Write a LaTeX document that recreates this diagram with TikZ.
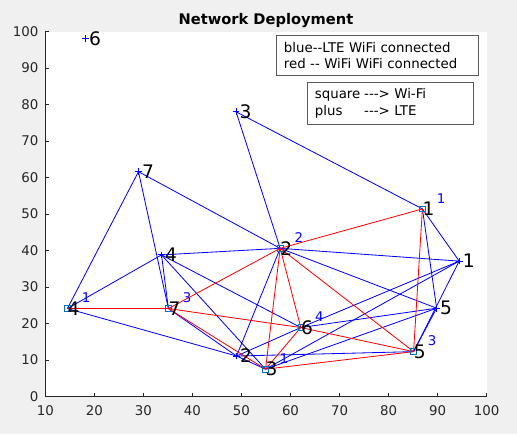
\documentclass[tikz,border=0pt]{standalone}
\usepackage{fontspec}
\setmainfont{DejaVu Sans}
\usepackage{xcolor}
\usepackage{tikz}
\usetikzlibrary{calc}
\definecolor{ndFigBg}{HTML}{F0F0F0}
\definecolor{ndAxis}{HTML}{262626}
\definecolor{ndLte}{HTML}{0000FF}
\definecolor{ndWifi}{HTML}{FF0000}
\definecolor{ndSquare}{HTML}{0072BD}
\definecolor{ndFrame}{HTML}{5A5A5A}
\tikzset{
  % LTE -- WiFi link (blue)
  ltelink/.style={draw=ndLte,line width=0.7pt},
  % WiFi -- WiFi link (red)
  wifilink/.style={draw=ndWifi,line width=0.7pt},
  % WiFi access point (square marker)
  apmark/.style={rectangle,draw=ndSquare,line width=0.6pt,
    minimum size=0.17cm,inner sep=0pt},
  % LTE base station (plus marker)
  bsmark/.style={draw=ndLte,line width=0.75pt},
  % Station number
  idlbl/.style={anchor=west,inner sep=0pt,
    font=\fontsize{15.9}{18}\selectfont,text=black},
  % Small blue index next to an access point
  sublbl/.style={inner sep=0pt,
    font=\fontsize{11.4}{13}\selectfont,text=ndLte},
  % Tick labels
  ticklbl/.style={inner sep=0pt,
    font=\fontsize{11.4}{13}\selectfont,text=ndAxis},
  % Axis lines and ticks
  axline/.style={draw=ndAxis,line width=0.6pt},
  % Legend text boxes
  keybox/.style={rectangle,draw=ndFrame,line width=0.9pt,fill=white,
    anchor=north west,align=left,inner xsep=0.23cm,
    font=\fontsize{11.4}{13.9}\selectfont,text=black},
}

\begin{document}
\begin{tikzpicture}[x=0.1471cm,y=0.1095cm]
  % Figure and axes background
  \fill[ndFigBg] (0.76,-10.27) rectangle (106.19,108.63);
  \fill[white] (10,0) rectangle (100,100);

  % Station positions
  \foreach \nm/\x/\y in {l6/18.2/98.0, l3/48.9/78.0, l7/29.0/61.6,
      l4/33.7/38.8, l2/49.0/11.1, l1/94.4/37.1, l5/89.8/24.2}
    \coordinate (\nm) at (\x,\y);
  \foreach \nm/\x/\y in {w1/86.9/51.4, w2/57.9/40.6, w6/62.1/18.9,
      w5/85.1/12.3, w3/54.9/7.5, w4/14.5/24.1, w7/35.1/24.1}
    \coordinate (\nm) at (\x,\y);

  % LTE -- WiFi links
  \foreach \a/\b in {l3/w1,l3/w2, l7/w2,l7/w4,l7/w7,
      l4/w4,l4/w7,l4/w2,l4/w6,l4/w3,
      l2/w2,l2/w7,l2/w4,l2/w3,l2/w6,l2/w5,
      l1/w1,l1/w2,l1/w6,l1/w3,l1/w5,
      l5/w1,l5/w2,l5/w6,l5/w3,l5/w5}
    \draw[ltelink] (\a) -- (\b);

  % WiFi -- WiFi links
  \foreach \a/\b in {w4/w7,w7/w2,w7/w3,w7/w6,w6/w5,w2/w1,
      w2/w3,w2/w6,w2/w5,w1/w5,w6/w3,w3/w5}
    \draw[wifilink] (\a) -- (\b);

  % LTE base stations
  \foreach \nm/\t in {l6/6,l3/3,l7/7,l4/4,l2/2,l1/1,l5/5} {
    \draw[bsmark] ($(\nm)+(-0.1cm,0)$) -- ($(\nm)+(0.1cm,0)$)
      ($(\nm)+(0,-0.1cm)$) -- ($(\nm)+(0,0.1cm)$);
    \node[idlbl,xshift=0.1cm] (\nm-id) at (\nm) {\t};
  }

  % WiFi access points
  \foreach \nm/\t/\s in {w1/1/1,w2/2/2,w6/6/4,w5/5/3,w3/3/1,w4/4/1,w7/7/3} {
    \node[apmark] (\nm-mk) at (\nm) {};
    \node[idlbl] (\nm-id) at (\nm) {\t};
    \node[sublbl] (\nm-sub) at ($(\nm)+(3.8,2.9)$) {\s};
  }

  % Axes
  \draw[axline] (10,100) -- (10,0) -- (100,0);
  \foreach \x in {10,20,...,100} {
    \draw[axline] (\x,0) -- ++(0,0.1cm);
    \node[ticklbl,anchor=north] (xt\x) at ($(\x,0)+(0,-0.25cm)$) {\x};
  }
  \foreach \y in {0,10,...,100} {
    \draw[axline] (10,\y) -- ++(0.1cm,0);
    \node[ticklbl,anchor=east] (yt\y) at ($(10,\y)+(-0.2cm,0)$) {\y};
  }

  % Title
  \node[anchor=base,inner sep=0pt,font=\fontsize{12.5}{15}\selectfont\bfseries]
    (title) at (55,102.05) {Network Deployment};

  % Legend boxes
  \node[keybox,text width=5.6cm,minimum height=1.2cm] (keyColor) at (56.98,99.04)
    {blue-{}-LTE WiFi connected\\red -{}- WiFi WiFi connected};
  \node[keybox,text width=4.53cm,minimum height=1.27cm] (keyMark) at (63.3,86.25)
    {\makebox[1.48cm][l]{square}-{}-{}-> Wi-Fi\\
     \makebox[1.48cm][l]{plus}-{}-{}-> LTE};
\end{tikzpicture}
\end{document}
